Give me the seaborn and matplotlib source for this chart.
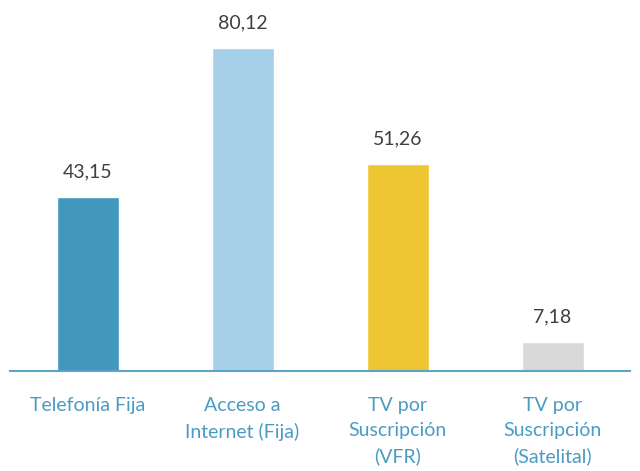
import pandas as pd
import seaborn as sns
import matplotlib.pyplot as plt

categorias = ["Telefonía Fija", "Acceso a\nInternet (Fija)", "TV por\nSuscripción\n(VFR)", "TV por\nSuscripción\n(Satelital)"]
valores = [43.15, 80.12, 51.26, 7.18]
colores = ["#4198BC", "#A5D0E8", "#EDC631", "#D9D9D9"]

df = pd.DataFrame({"categoria": categorias, "valor": valores})

sns.set_style("white")
plt.rcParams["font.family"] = ["Lato", "DejaVu Sans"]

fig = plt.figure(figsize=(6.4, 4.71), dpi=100)
ax = fig.add_axes([10 / 640, 100 / 471, 620 / 640, 371 / 471])

sns.barplot(data=df, x="categoria", y="valor", hue="categoria", palette=colores,
            width=0.4, legend=False, ax=ax, saturation=1)

# etiquetas de valor con coma decimal
for i, v in enumerate(valores):
    ax.annotate(f"{v:.2f}".replace(".", ","), (i, v), xytext=(0, 12),
                textcoords="offset points", ha="center", va="bottom",
                fontsize=14, color="#404040")

ax.set_xlim(-0.5, 3.5)
ax.set_ylim(0, 92)
ax.set_xlabel("")
ax.set_ylabel("")
ax.set_yticks([])
for s in ["top", "left", "right"]:
    ax.spines[s].set_visible(False)
ax.spines["bottom"].set_color("#5BA3C9")
ax.spines["bottom"].set_linewidth(1.5)
ax.tick_params(axis="x", length=0, pad=19, labelsize=14, labelcolor="#4A9BC4")
for t in ax.get_xticklabels():
    t.set_linespacing(1.55)
    t.set_va("top")

fig.savefig("out.png", dpi=100)
